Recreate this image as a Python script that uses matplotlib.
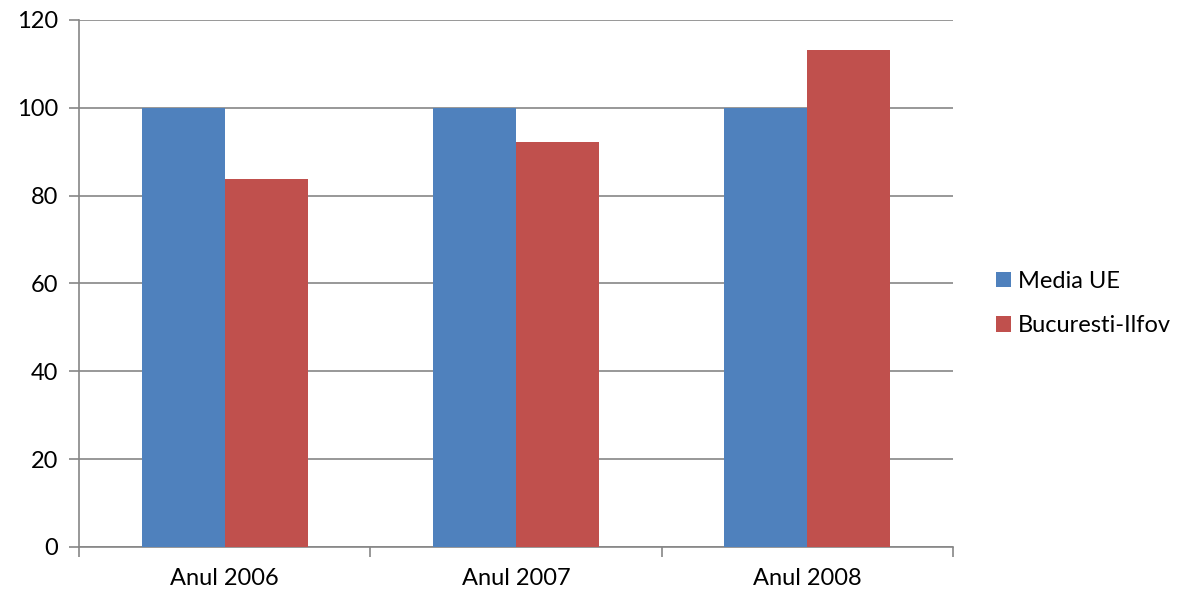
import numpy as np
import matplotlib
matplotlib.use("Agg")
import matplotlib.pyplot as plt
from matplotlib.patches import Patch

plt.rcParams["font.family"] = ["Lato", "DejaVu Sans"]

# Date
ani = ["Anul 2006", "Anul 2007", "Anul 2008"]
media_ue = [100, 100, 100]
bucuresti_ilfov = [83.9, 92.2, 113.1]
serii = ["Media UE", "Bucuresti-Ilfov"]
culori = ["#4F81BD", "#C0504D"]
grila = "#868686"

fig = plt.figure(figsize=(11.8, 5.93), dpi=100)
ax = fig.add_axes([0.0669, 0.0776, 0.7407, 0.8887])

x = np.arange(len(ani))
latime = 0.285
ax.bar(x - latime / 2, media_ue, width=latime, color=culori[0], zorder=3)
ax.bar(x + latime / 2, bucuresti_ilfov, width=latime, color=culori[1], zorder=3)

ax.set_xlim(-0.5, len(ani) - 0.5)
ax.set_ylim(0, 120)
ax.set_yticks(np.arange(0, 121, 20))
ax.yaxis.grid(True, color=grila, linewidth=1.2, zorder=0)

# tick-uri categorii la margini
ax.set_xticks(np.arange(-0.5, len(ani)), minor=False)
ax.set_xticklabels([])
ax.set_xticks(x, minor=True)
ax.set_xticklabels(ani, minor=True, fontsize=17)
ax.tick_params(axis="x", which="major", length=7, width=1.2, color=grila, direction="out")
ax.tick_params(axis="x", which="minor", length=0, pad=15)
ax.tick_params(axis="y", length=7, width=1.2, color=grila, labelsize=17, pad=8)

for s in ["top", "right"]:
    ax.spines[s].set_visible(False)
for s in ["left", "bottom"]:
    ax.spines[s].set_color(grila)
    ax.spines[s].set_linewidth(1.2)

handles = [Patch(facecolor=c) for c in culori]
fig.legend(handles, serii, loc="center left", bbox_to_anchor=(0.826, 0.488),
           frameon=False, fontsize=17, handlelength=0.65, handleheight=0.65,
           handletextpad=0.3, labelspacing=1.0)

fig.savefig("out.png", dpi=100)
